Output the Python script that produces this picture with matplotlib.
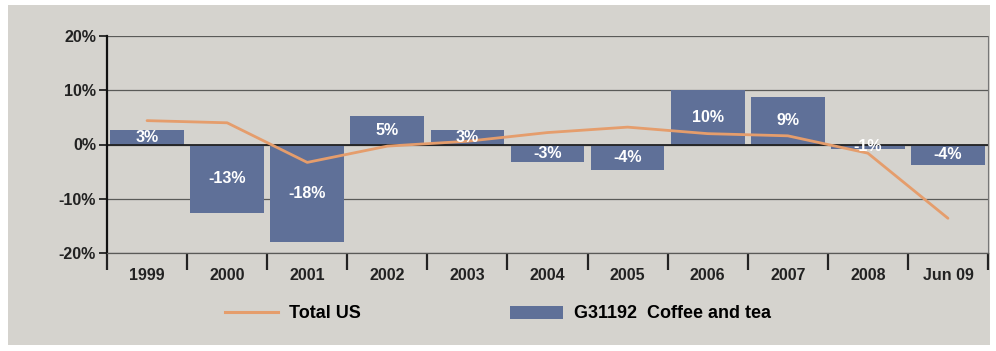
import numpy as np
import matplotlib.pyplot as plt
from matplotlib.patches import Rectangle, Patch
from matplotlib.lines import Line2D

plt.rcParams['font.family'] = ['Liberation Sans', 'DejaVu Sans']

categories = ["1999", "2000", "2001", "2002", "2003", "2004", "2005",
              "2006", "2007", "2008", "Jun 09"]
coffee_tea = [2.7, -12.7, -17.9, 5.3, 2.7, -3.2, -4.7, 10.1, 8.8, -0.8, -3.8]
coffee_labels = ["3%", "-13%", "-18%", "5%", "3%", "-3%", "-4%",
                 "10%", "9%", "-1%", "-4%"]
total_us = [4.4, 4.0, -3.3, -0.3, 0.6, 2.2, 3.2, 2.0, 1.6, -1.6, -13.6]

BG = "#d5d3ce"
BAR = "#5f7098"
LINE = "#e59d6c"

fig = plt.figure(figsize=(9.96, 3.51), dpi=100, facecolor="white")
# grey panel behind the chart
fig.patches.append(Rectangle((8 / 996, 6 / 351), 982 / 996, 340 / 351,
                             transform=fig.transFigure, facecolor=BG,
                             edgecolor="none", zorder=-1))

ax = fig.add_axes([107 / 996, 1 - 253 / 351, 881 / 996, 217 / 351])
ax.set_zorder(2)
ax.set_facecolor(BG)

x = np.arange(len(categories))
ax.bar(x, coffee_tea, width=0.92, color=BAR, zorder=2)
for xi, v, lab in zip(x, coffee_tea, coffee_labels):
    ax.text(xi, v / 2, lab, ha="center", va="center", color="white",
            fontsize=11.5, fontweight="bold", zorder=4)

ax.plot(x, total_us, color=LINE, lw=2, zorder=3, solid_capstyle="round")

ax.set_xlim(-0.5, len(categories) - 0.5)
ax.set_ylim(-20, 20)
ax.set_yticks([-20, -10, 0, 10, 20])
ax.set_yticklabels(["-20%", "-10%", "0%", "10%", "20%"])
ax.yaxis.grid(True, color="#5a5a58", lw=0.9, zorder=1)
ax.set_axisbelow(True)
ax.axhline(0, color="#222222", lw=1.3, zorder=2.5)

ax.set_xticks(x)
ax.set_xticklabels(categories)
ax.set_xticks(np.arange(len(categories) + 1) - 0.5, minor=True)
ax.tick_params(axis="x", which="major", length=0, pad=11, labelsize=11.5)
ax.tick_params(axis="x", which="minor", length=12, width=1.6, color="#222222",
               direction="out")
ax.tick_params(axis="y", length=6, width=1.3, color="#222222", pad=2,
               labelsize=11.5)
for lbl in ax.get_xticklabels() + ax.get_yticklabels():
    lbl.set_fontweight("bold")
    lbl.set_color("#222222")

ax.spines["left"].set_color("#111111")
ax.spines["left"].set_linewidth(1.6)
ax.spines["right"].set_color("#777777")
ax.spines["top"].set_visible(False)
ax.spines["bottom"].set_color("#5a5a58")
ax.spines["bottom"].set_linewidth(0.9)

handles = [Line2D([0], [0], color=LINE, lw=2.2),
           Patch(facecolor=BAR, edgecolor="none")]
fig.legend(handles, ["Total US", "G31192  Coffee and tea"],
           loc="center", bbox_to_anchor=(498 / 996, 1 - 314 / 351),
           ncol=2, frameon=False, columnspacing=8.3, handlelength=2.9,
           handletextpad=0.6, prop={"size": 13, "weight": "bold"})

fig.savefig("out.png", dpi=100, facecolor="white")
